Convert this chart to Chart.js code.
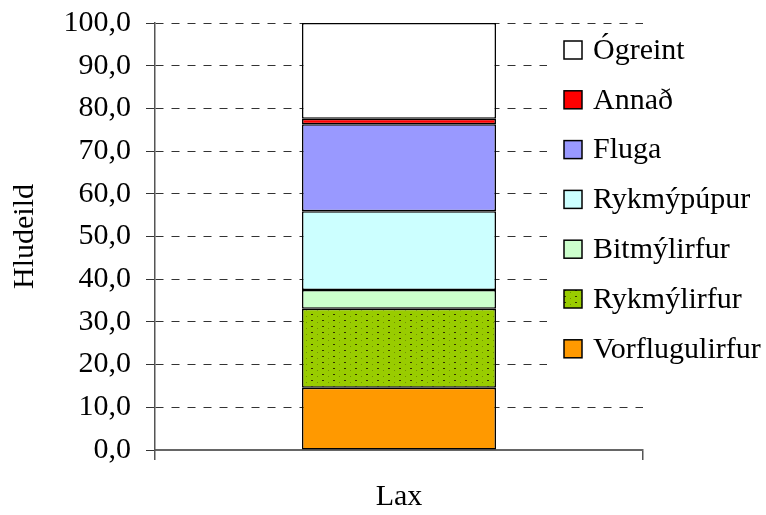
<!DOCTYPE html>
<html>
<head>
<meta charset="utf-8">
<script src="https://cdn.jsdelivr.net/npm/chart.js@4/dist/chart.umd.min.js"></script>
<style>
  html, body { margin: 0; padding: 0; background: #fff; }
  #wrap { width: 766px; height: 515px; }
</style>
</head>
<body>
<div id="wrap"><canvas id="c" width="766" height="515"></canvas></div>
<script>
const categories = ['Lax'];
const seriesNames = ['Vorflugulirfur', 'Rykmýlirfur', 'Bitmýlirfur', 'Rykmýpúpur', 'Fluga', 'Annað', 'Ógreint'];
const vorflugulirfur = [14.6];
const rykmylirfur = [18.5];
const bitmylirfur = [4.4];
const rykmypupur = [18.4];
const fluga = [20.4];
const annad = [1.3];
const ogreint = [22.4];
const seriesColors = ['#FF9900', '#99CC00', '#CCFFCC', '#CCFFFF', '#9999FF', '#FF0000', '#FFFFFF'];
const yTicks = [0, 10, 20, 30, 40, 50, 60, 70, 80, 90, 100];
const yTitle = 'Hludeild';

const FONT = '"Liberation Serif", "Times New Roman", serif';
const FS = 30;

function makePattern(base) {
  const t = document.createElement('canvas');
  t.width = 11; t.height = 6;
  const g = t.getContext('2d');
  g.fillStyle = base; g.fillRect(0, 0, 11, 6);
  g.fillStyle = '#333300'; g.fillRect(3, 2, 2, 1);
  g.fillStyle = '#6f8f00'; g.fillRect(9, 4, 1, 1);
  return g.createPattern(t, 'repeat');
}

const seriesValues = [vorflugulirfur, rykmylirfur, bitmylirfur, rykmypupur, fluga, annad, ogreint];
const datasets = seriesNames.map((name, i) => ({
  label: name,
  data: seriesValues[i],
  backgroundColor: i === 1 ? makePattern(seriesColors[i]) : seriesColors[i],
  borderColor: '#000',
  borderWidth: 1.5,
  borderSkipped: false,
  categoryPercentage: 1,
  barPercentage: 0.3975
}));

const legendPlugin = {
  id: 'customLegend',
  afterDraw(chart) {
    const ctx = chart.ctx;
    ctx.save();
    ctx.fillStyle = '#fff';
    ctx.fillRect(547, 30, 219, 350);
    const ds = chart.data.datasets.slice().reverse();
    ctx.font = FS + 'px ' + FONT;
    ctx.textBaseline = 'middle';
    ctx.textAlign = 'left';
    ds.forEach((d, i) => {
      const cy = 50 + i * 49.8;
      ctx.fillStyle = d.backgroundColor;
      ctx.fillRect(564, cy - 9, 18, 18);
      ctx.strokeStyle = '#000';
      ctx.lineWidth = 1.5;
      ctx.strokeRect(564, cy - 9, 18, 18);
      ctx.fillStyle = '#000';
      ctx.fillText(d.label, 593, cy + 1);
    });
    ctx.restore();
  }
};

new Chart(document.getElementById('c'), {
  type: 'bar',
  data: { labels: categories, datasets },
  plugins: [legendPlugin],
  options: {
    responsive: false,
    animation: false,
    devicePixelRatio: 1,
    layout: { padding: { top: 23, right: 123, bottom: 0, left: 0 } },
    plugins: { legend: { display: false }, tooltip: { enabled: false } },
    scales: {
      x: {
        stacked: true,
        offset: true,
        grid: { display: true, drawOnChartArea: false, drawTicks: true, tickLength: 10, offset: true, color: '#555', tickColor: '#555', lineWidth: 1.5 },
        border: { display: true, color: '#666', width: 2 },
        ticks: { color: '#000', font: { family: FONT, size: FS }, padding: 19 },
        afterFit(s) { s.height = 65; s.paddingLeft = 0; s.paddingRight = 0; }
      },
      y: {
        stacked: true,
        min: 0, max: 100,
        afterBuildTicks(s) { s.ticks = yTicks.map(v => ({ value: v })); },
        grid: { color: '#333', lineWidth: 1, tickLength: 9, tickColor: '#333', tickBorderDash: [] },
        border: { display: true, color: '#555', width: 1.5, dash: [8, 8] },
        ticks: {
          color: '#000', padding: 15,
          font: { family: FONT, size: FS },
          callback: v => v.toFixed(1).replace('.', ',')
        },
        title: { display: true, text: yTitle, color: '#000', font: { family: FONT, size: FS, lineHeight: 1.2 }, padding: { top: 7, bottom: 0 } },
        afterFit(s) { s.width = 155; s.paddingTop = 0; s.paddingBottom = 0; }
      }
    }
  }
});
</script>
</body>
</html>
